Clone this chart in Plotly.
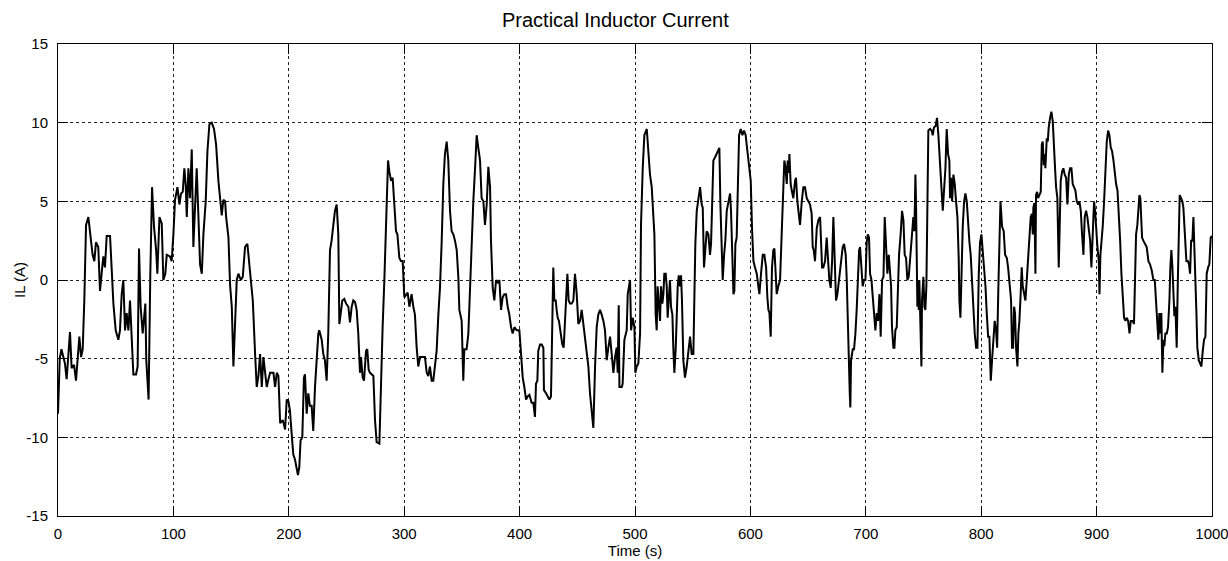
import plotly.graph_objects as go

time_s = [
    0, 1.5, 3, 4.5, 6, 7.5, 9, 10.4, 11.8, 13.9, 15.6, 17.6, 18.5, 20, 21.4, 22.8, 24.3, 26.3, 27.7, 30,
    31.5, 32.9, 34.9, 36.4, 37.8, 39.3, 40.7, 42.2, 45.1, 46.5, 48, 50, 52.3, 53.7, 55.2, 56.6, 58.1, 59.5,
    61, 62.4, 63.8, 65.3, 67.6, 69, 70.2, 71.6, 73.4, 74.8, 75.7, 76.5, 78.5, 80, 81.5, 83.2, 85, 86.1, 87.9,
    89.9, 91.3, 93, 94.2, 97,
    98.5, 100, 101.4, 103.5, 105.2, 106.6, 108.1, 109.5, 110.7, 111.6, 113, 114.4, 115.9, 117.3, 118.8,
    120.2, 121.7, 123.1, 124.6, 126, 128, 129.5, 131.2, 133.2, 135.2, 137, 139, 141, 141.9, 143.3, 144.8,
    145.7, 147.7, 149.1, 150.6, 152, 153.5, 154.9, 156.3, 158.4, 160.1, 162.1, 164.1, 165.9, 167.3, 168.8,
    170.8, 172.2, 173.7, 175.1, 176.6, 178, 179.5, 180.9, 182.4, 183.8, 186.7, 188.1, 189.6, 191, 192.5,
    194.8, 196.8, 198.2, 199.7,
    201, 202.4, 203.9, 205.3, 206.8, 207.9, 209.1, 210.2, 211.7, 213.1, 214, 215.5, 216.9, 218.3, 219.8,
    221.2, 222.7, 224.1, 225.6, 226.4, 228.5, 229.9, 231.3, 232.8, 234.2, 235.7, 237.1, 238.6, 240, 241.5,
    242.9, 243.8, 244.9, 246.4, 248.1, 249.6, 251.6, 253, 254.5, 255.9, 257.4, 258.8, 260.2, 261.7, 262.6,
    264, 265.2, 266.9, 268, 269.2, 270.4, 271.8, 273.3, 274.7, 276.1, 278.5, 279.6, 281.3, 282.8, 284.8,
    286, 287.1, 288.6, 290, 291.2, 292.9, 294.1, 295.8, 297.2, 298.7, 300.1, 301.6, 303, 304.5,
    306.4, 307.9, 309.3, 310.8, 312.2, 313.7, 315.1, 316.6, 318, 319.5, 320.9, 322.3, 323.8, 325.2, 326.7,
    328.1, 329.6, 331, 332.5, 333.9, 335.3, 336.8, 338.2, 339.7, 341.1, 342.6, 344, 345.5, 346.9, 347.8,
    349.8, 350.7, 351.2, 352.1, 354.1, 355.6, 357, 358.5, 359.9, 361.4, 362.8, 364.2, 365.7, 367.1, 368.6,
    370, 371.5, 372.9, 374.4, 375.2, 376.7, 378.1, 379.6, 381, 382.5, 383.9, 385.3, 386.8, 388.2, 389.7,
    391.1, 392.6, 394, 395.5, 397.5, 399.8, 401.2, 402.7, 404.1, 405.6, 407, 408.5,
    410.4, 411.9, 413.3, 414.2, 415.4, 416.2, 417.7, 419.1, 420.6, 421.1, 422.9, 424, 425.8, 427.2, 428.4,
    429.2, 430.1, 431.3, 432.1, 433, 434.1, 435.6, 437, 438.2, 439.3, 440.2, 441.4, 442.5, 443.7, 445.1,
    446.6, 448, 449.5, 450.9, 452.4, 453.8, 455.2, 456.7, 458.1, 459.6, 461, 462.5, 463.9, 465.4, 466.8,
    468.2, 469.7, 471.1, 472.6, 474, 475.5, 476.9, 478.4, 479.8, 481.3, 482.7, 484.1, 485, 485.9, 486.5,
    488.5, 489.3, 490.8, 492.8, 493.7, 494.8, 495.7, 496.6, 498, 499.5, 500.3, 501.5, 502.9, 504.4, 505.2,
    506.7, 508.1, 510.2, 511.6, 513, 514.5, 515.9,
    516.8, 517.9, 518.8, 519.6, 520.8, 521.7, 522.5, 523.7, 524.6, 525.4, 526.6, 527.5, 528.3, 529.5, 530.3,
    531.2, 532.4, 533.2, 534.1, 535.3, 536.1, 537, 537.9, 539, 539.9, 540.7, 541.9, 543.3, 544.8, 546.2,
    547.7, 549.1, 550.6, 551.4, 552.3, 553.5, 554.9, 556.4, 557.8, 558.7, 559.8, 561, 562.1, 563.6, 565,
    565.9, 567, 567.9, 569.4, 570.8, 572.2, 573.1, 574, 575.1, 576, 577.2, 578.3, 579.5, 580.9, 582.4,
    583.2, 584.1, 585.3, 586.1, 587, 588.1, 589, 590.2, 591.6, 593.1, 594.5, 595.9, 597.4, 598.8, 600.3,
    601.4, 602.6, 604, 605.5, 606.9, 607.8, 609.2, 610.7, 612.1, 613.6, 614.7, 615.6, 616.5, 617.6,
    618.7, 619.9, 620.8, 621.6, 622.8, 624.2, 625.7, 627.1, 628.6, 629.4, 630.3, 631.5, 632.3, 633.2, 633.8,
    634.9, 635.8, 637.2, 638.7, 639.5, 640.7, 641.9, 643, 644.5, 645.9, 647.3, 648.8, 650.2, 651.7, 653.1,
    654, 654.9, 656, 657.5, 658.9, 660.4, 661.2, 662.1, 663.2, 664.7, 666.1, 667.3, 668.4, 669.6, 670.8,
    671.9, 673.1, 674.2, 675.4, 676.8, 678.3, 680, 681.2, 682.6, 683.5, 684.3, 685.2, 686.1, 686.6, 687.2,
    688.7, 689.8, 691, 692.1, 693, 694.2, 695, 696.2, 697.3, 698.5, 699.7, 700.8, 701.7, 702.8, 703.7,
    704.9, 706, 707.2, 708.3, 709.5, 710.6, 711.8, 712.9, 714.1, 715.3, 716.4, 717.6, 718.7, 719.9, 721,
    721.9, 722.7, 723.9, 724.8, 725.6, 726.8, 727.6, 728.8, 730.2, 731.4, 732.6, 733.7, 734.9, 736, 737.2,
    738.3, 739.5, 740.4, 741.2, 742.1, 743, 743.5, 744.1, 744.7, 745.3, 745.9, 746.4, 747, 747.6, 748.2,
    748.7, 749.3, 749.9, 750.8, 751.6, 752.5, 753.4, 754.2, 755.7, 757.1, 758, 759.1, 760.6, 761.7, 762.9,
    764.4, 765.5, 766.7, 767.8, 769, 770.1, 771.3, 772.4, 773, 773.9, 774.8, 775.9, 777.1, 778.2, 779.4,
    780.5, 781.1, 782, 782.8, 784, 785.2, 786.3, 787.5, 788.6, 789.8, 790.9, 792.1, 793.3, 794.4, 795.6,
    796.7, 797.9, 799, 800.2, 801.3, 802.5, 803.7, 804.8, 806, 807.1, 808.3, 809.4, 810.6, 811.7, 812.9,
    813.8, 814.9, 815.8, 816.7, 818.1, 819.5, 820.7, 822.2, 823.3, 824.5,
    825.9, 826.7, 827.6, 828.5, 829.3, 830.2, 831.4, 832.2, 833.1, 834.2, 835.1, 836, 837.1, 838.3, 839.5,
    840.6, 841.8, 842.9, 843.8, 844.7, 845.2, 846.1, 847, 847.5, 848.4, 849.3, 850.4, 851.6, 852.5, 853.3,
    854.2, 855.1, 855.6, 856.8, 857.7, 858.5, 859.7, 860.8, 862, 862.9, 864, 864.9, 866, 867.2, 868.1,
    868.9, 870.1, 871.2, 872.4, 873.6, 874.7, 875.9, 877, 878.2, 879.3, 880.5, 881.6, 882.8, 884, 885.1,
    886.3, 887.4, 888.6, 889.7, 890.9, 892, 893.2, 894.4, 895.5, 896.7, 897.8, 898.7, 899.6, 900.7, 901.9,
    902.5, 903.3, 904.2, 905.3, 906.5, 907.7, 908.8, 910, 911.1, 912.3, 913.4, 914.6, 915.7, 916.9, 918.1,
    919.2, 920.4, 921.5, 922.7, 923.8, 925, 926.2, 927.3, 928.5, 929.6,
    931.3, 932.4, 933.3, 934.2, 935.3, 936.2, 937.1, 937.9, 938.5, 939.4, 940.5, 942, 943.4, 944.9, 946.3,
    947.8, 949.2, 950.4, 951.5, 952.7, 953.5, 954.4, 955.3, 956.1, 957, 957.9, 958.7, 959.6, 960.8, 961.9,
    963.1, 963.9, 964.8, 965.7, 966.5, 967.4, 968.3, 969.4, 970.3, 971.2, 972, 973.2, 974.3, 975.2, 976.1,
    976.9, 977.8, 979, 980.1, 981, 981.9, 983, 983.9, 984.7, 985.6, 986.5, 987.3, 988.5, 989.7, 990.8,
    992, 993.1, 994.3, 995.4, 996.6, 997.7, 998.9, 1000,
]

inductor_current = [
    -8.5, -5.0, -4.4, -4.8, -5.3, -6.3, -5.0, -3.3, -5.6, -5.4, -6.4, -4.8, -3.6, -4.9, -4.4, -1.3, 3.5, 4.0, 2.9, 1.6,
    1.2, 2.4, 2.1, -0.7, 0.4, 1.5, 0.8, 2.8, 2.8, 0.8, -1.5, -3.2, -3.8, -3.2, -0.9, 0.0, -3.2, -2.1,
    -3.2, -1.3, -3.4, -6.0, -6.0, -5.5, 2.0, -1.7, -3.4, -2.1, -1.5, -5.1, -7.6, 0.4, 5.9, 3.4, 1.9, 0.4, 4.0,
    3.6, 0.0, 0.4, 1.6, 1.5,
    1.2, 2.9, 5.1, 5.9, 4.8, 5.5, 5.6, 7.1, 6.0, 4.0, 7.1, 5.2, 8.3, 2.1, 5.0,
    7.1, 4.0, 1.0, 0.4, 2.9, 5.0, 8.2, 9.9, 10.0, 9.6, 8.6, 6.3, 5.0, 4.1, 5.1, 5.0,
    4.0, 2.7, -0.3, -1.7, -5.5, -2.2, 0.0, 0.4, 0.0, 0.2, 2.1, 2.3, 0.8, 0.0, -1.3,
    -4.7, -6.8, -6.1, -4.7, -6.8, -4.9, -5.9, -6.8, -6.3, -5.9, -5.9, -6.8, -5.9, -6.1, -9.1,
    -8.9, -9.5, -7.6, -7.7,
    -8.3, -9.7, -11.1, -11.4, -11.9, -12.4, -11.9, -10.2, -10.0, -6.2, -6.0, -8.5, -7.2, -8.0, -8.0,
    -9.6, -6.8, -5.1, -3.4, -3.2, -3.8, -4.7, -5.1, -6.4, -3.4, 1.9, 2.5, 3.5, 4.4, 4.8,
    2.9, -2.8, -2.2, -1.3, -1.2, -1.5, -1.7, -2.7, -1.7, -1.3, -1.4, -1.9, -3.4, -5.9, -4.9,
    -6.2, -6.4, -4.5, -4.4, -5.7, -5.9, -6.0, -6.1, -8.9, -10.3, -10.4, -6.8, -3.0, 0.0, 5.0,
    7.6, 6.9, 6.3, 6.5, 5.2, 3.1, 2.9, 1.4, 1.2, 1.2, -1.1, -0.9, -0.8, -1.7,
    -0.9, -1.7, -2.2, -4.3, -5.5, -4.9, -4.9, -4.9, -4.9, -5.9, -6.1, -5.5, -6.4, -6.4, -5.5,
    -4.5, -2.2, -0.5, 2.5, 6.1, 8.0, 8.8, 7.6, 4.4, 3.1, 2.9, 2.5, 1.9, 0.2, -1.9,
    -2.6, -4.5, -6.4, -4.4, -4.4, -3.4, -0.2, 2.5, 5.0, 7.1, 9.2, 8.4, 7.6, 5.2, 5.0,
    3.5, 4.8, 7.2, 5.9, 2.5, -0.5, -1.3, 0.0, -0.2, 0.0, -1.9, -1.1, -0.9, -0.9, -1.7,
    -2.2, -3.0, -3.4, -3.0, -3.2, -3.2, -4.9, -6.2, -6.8, -7.6, -7.4, -7.3,
    -7.8, -7.8, -8.7, -6.6, -6.4, -4.5, -4.1, -4.1, -4.3, -7.0, -7.2, -7.4, -7.6, -7.4, -3.4,
    0.8, -1.3, -1.3, -1.9, -2.4, -2.6, -3.4, -4.1, -4.3, -2.4, -1.3, 0.4, -1.3, -1.5, -1.5,
    -1.3, 0.4, -0.9, -2.8, -2.6, -1.9, -2.8, -3.8, -4.9, -5.5, -7.2, -8.3, -9.4, -5.5, -3.0,
    -2.2, -1.9, -2.2, -2.6, -3.2, -5.1, -4.3, -3.6, -4.7, -5.9, -4.9, -4.3, -5.9, -1.6, -6.8,
    -6.8, -6.6, -3.8, -3.2, -0.9, -0.4, 0.0, -3.2, -2.4, -3.0, -5.9, -5.5, -5.3, -3.4, 3.5,
    7.1, 9.2, 9.6, 8.0, 6.7, 5.9, 4.0,
    2.9, -2.2, -3.2, -0.4, -2.2, -2.6, -0.4, -1.5, -0.9, 0.4, 0.4, -0.4, -2.4, -0.4, 0.0,
    -1.7, -2.2, -4.3, -5.9, -4.3, -2.4, -0.4, 0.3, -0.4, 0.3, -1.3, -5.1, -6.2, -5.5, -4.7,
    -3.6, -4.7, -4.7, -1.3, 2.3, 4.4, 5.0, 5.9, 4.8, 4.6, 0.8, 2.3, 3.1, 2.9, 1.6,
    2.3, 5.0, 7.6, 7.8, 8.0, 8.2, 8.4, 4.8, 1.2, 0.0, 1.6, 2.5, 4.4, 5.0, 5.5,
    4.4, 1.6, -0.9, -0.7, 2.3, 2.7, 5.0, 9.2, 9.6, 9.2, 9.5, 9.2, 8.2, 7.1, 6.3,
    3.3, 1.2, 0.8, 0.4, -0.4, -0.9, 0.4, 1.6, 1.6, 0.8, -1.1, -1.9, -2.1, -3.6,
    0.8, 1.9, 2.0, 0.8, -0.9, -0.4, 0.0, 2.9, 5.9, 7.6, 7.2, 6.1, 7.6, 6.8, 8.0,
    6.1, 5.7, 5.2, 6.3, 6.5, 5.0, 4.2, 3.5, 5.0, 5.9, 5.9, 5.2, 5.0, 4.8, 4.2,
    2.1, 1.9, 1.2, 3.3, 3.8, 4.0, 2.9, 0.8, 0.8, 1.2, 2.7, 0.8, 0.0, -0.5, 1.2,
    4.0, 1.0, -1.3, -0.9, 0.0, 1.2, 2.1, 2.3, 1.6, 0.0, -3.2, -4.7, -7.2, -8.1, -5.1,
    -4.4, -4.4, -3.4, -1.9, -0.2, 1.9, 2.1, 0.8, -0.4, 0.0, 0.0, 2.4, 2.9, 2.7, 0.4,
    0.0, -1.1, -1.7, -3.2, -2.1, -2.6, -0.9, -3.6, 0.0, 0.2, 4.0, 2.1, 0.4, 1.6, 0.0,
    -0.4, -3.0, -4.3, -4.3, -3.2, -3.0, -0.4, 1.6, 2.9, 4.4, 3.8, 1.6, 1.4, 0.0, 0.2,
    1.4, 2.3, 3.4, 4.0, 3.1, 6.7, 5.0, -0.9, -1.7, 0.0, -1.9, 0.0, -1.7, -2.4, -5.5,
    -1.3, -0.4, 0.2, -1.7, -1.9, -0.4, 6.9, 9.5, 9.6, 9.5, 9.2, 9.7, 9.8, 10.3, 9.2,
    7.1, 5.9, 4.4, 5.7, 7.1, 9.6, 8.0, 7.6, 5.2, 6.5, 5.0, 6.7, 6.1, 5.0, 4.0,
    1.4, -1.3, -2.4, 0.8, 3.4, 5.0, 5.5, 5.0, 3.4, 2.4, 1.6, -0.4, -2.1, -3.4, -4.3,
    -4.3, 0.4, 2.4, 2.9, 1.9, 0.8, -0.4, -2.1, -3.6, -3.6, -6.4, -5.1, -3.6, -2.6, -3.2,
    -4.3, -0.4, 2.9, 5.0, 3.4, 3.1, 1.6, 1.4, 0.8, 0.0,
    -1.3, -4.3, -4.3, -1.7, -2.1, -4.3, -5.5, -3.4, -2.6, -0.9, 0.8, -0.4, -0.9, -1.3, 0.0,
    1.2, 2.4, 4.0, 4.2, 2.9, 4.6, 4.9, 0.4, 5.4, 5.6, 5.2, 5.4, 5.6, 8.6, 8.8,
    7.3, 8.0, 7.1, 9.0, 8.8, 9.7, 10.3, 10.7, 10.1, 8.4, 7.1, 5.9, 5.2, 0.8, 5.5,
    6.3, 6.9, 7.1, 6.7, 6.5, 4.8, 6.7, 7.1, 7.1, 6.1, 5.9, 5.7, 5.0, 4.8, 5.0,
    4.4, 2.9, 1.6, 4.0, 4.4, 4.0, 3.4, 2.5, 0.8, 2.9, 5.0, 4.4, 2.9, 2.1, 1.2,
    -0.9, 1.6, 2.3, 3.4, 5.0, 7.1, 8.8, 9.5, 9.2, 8.4, 8.2, 7.6, 6.7, 6.1, 5.7,
    4.4, 2.5, 0.4, -0.9, -2.4, -2.6, -2.4, -2.6, -3.4, -2.6,
    -2.6, -2.8, 0.4, 2.9, 3.5, 4.4, 5.4, 5.2, 3.5, 2.7, 2.5, 2.3, 2.1, 1.2, 1.0,
    0.6, 0.0, 0.0, -1.3, -2.6, -3.8, -2.1, -3.4, -2.1, -5.9, -3.8, -4.2, -3.4, -3.4, -3.0,
    -1.3, 0.8, 1.9, 0.8, -0.8, -2.3, -1.7, -4.3, -0.4, 2.9, 5.4, 5.2, 5.0, 4.6, 3.4,
    2.3, 1.2, 1.2, 1.0, 0.4, 2.5, 2.5, 4.0, 2.1, -0.9, -2.1, -4.3, -5.1, -5.3, -5.5,
    -4.5, -3.8, -3.6, 0.4, 0.8, 1.0, 2.7, 2.8,
]

x_ticks = [0, 100, 200, 300, 400, 500, 600, 700, 800, 900, 1000]
x_tick_labels = ["0", "100", "200", "300", "400", "500", "600", "700", "800", "900", "1000"]
y_ticks = [-15, -10, -5, 0, 5, 10, 15]
y_tick_labels = ["-15", "-10", "-5", "0", "5", "10", "15"]

font_family = "Liberation Sans, Arial, sans-serif"

fig = go.Figure()
fig.add_trace(go.Scatter(
    x=time_s, y=inductor_current, mode="lines",
    line=dict(color="black", width=2),
    showlegend=False,
))

axis_common = dict(
    showline=True, linecolor="black", linewidth=1, mirror="allticks",
    ticks="inside", ticklen=10, tickcolor="black", tickwidth=1,
    showgrid=True, gridcolor="#222222", gridwidth=1, griddash="dot",
    zeroline=False, tickfont=dict(family=font_family, size=15, color="black"),
    automargin=False, ticklabeloverflow="allow",
)

fig.update_layout(
    width=1228, height=561,
    margin=dict(l=58, r=16, t=44, b=45),
    paper_bgcolor="white", plot_bgcolor="white",
    font=dict(family=font_family, size=15, color="black"),
    title=dict(text="Practical Inductor Current", x=0.483, xref="paper", xanchor="center",
               y=1 - 20 / 561, yref="container", yanchor="middle",
               font=dict(family=font_family, size=20, color="black")),
    xaxis=dict(range=[0, 1000], tickvals=x_ticks, ticktext=x_tick_labels,
               ticklabelstandoff=4,
               title=dict(text="Time (s)", standoff=4, font=dict(family=font_family, size=15)),
               **axis_common),
    yaxis=dict(range=[-15, 15], tickvals=y_ticks, ticktext=y_tick_labels,
               ticklabelstandoff=6, **axis_common),
    annotations=[dict(text="IL (A)", textangle=-90, xref="paper", yref="paper",
                      x=-(58 - 19) / 1154, y=0.5, xanchor="center", yanchor="middle",
                      showarrow=False, font=dict(family=font_family, size=15, color="black"))],
)

fig.write_html("out.html")
